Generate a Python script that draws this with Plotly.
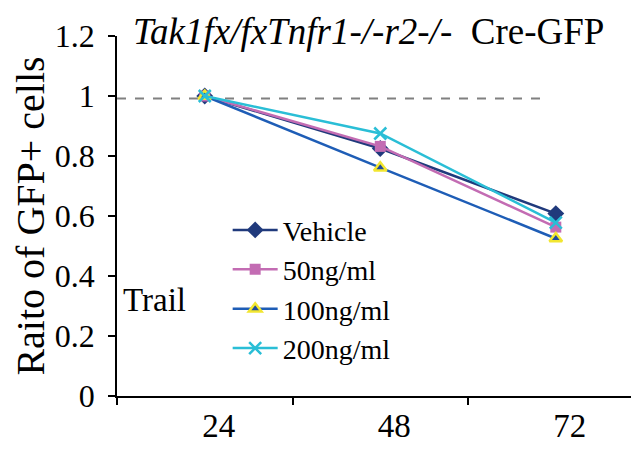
import plotly.graph_objects as go

hours = ["24", "48", "72"]
vehicle = [1.0, 0.825, 0.608]
ng50 = [1.0, 0.832, 0.563]
ng100 = [1.0, 0.761, 0.525]
ng200 = [1.0, 0.875, 0.578]
series_names = ["Vehicle", "50ng/ml", "100ng/ml", "200ng/ml"]
y_ticks = [0, 0.2, 0.4, 0.6, 0.8, 1.0, 1.2]
y_tick_text = ["0", "0.2", "0.4", "0.6", "0.8", "1", "1.2"]
reference_level = 1.0

FONT = "Times New Roman, Liberation Serif, serif"

fig = go.Figure()
fig.add_trace(go.Scatter(x=hours, y=vehicle, name=series_names[0], mode="lines+markers",
                         line=dict(color="#203A7C", width=2.5),
                         marker=dict(symbol="diamond", size=13, color="#203A7C")))
fig.add_trace(go.Scatter(x=hours, y=ng50, name=series_names[1], mode="lines+markers",
                         line=dict(color="#C36CB3", width=2.5),
                         marker=dict(symbol="square", size=11, color="#C36CB3")))
fig.add_trace(go.Scatter(x=hours, y=ng100, name=series_names[2], mode="lines+markers",
                         line=dict(color="#1E5DB6", width=2.5),
                         marker=dict(symbol="triangle-up", size=11, color="#1E4A9E",
                                     line=dict(color="#F2E630", width=2.5))))
fig.add_trace(go.Scatter(x=hours, y=ng200, name=series_names[3], mode="lines+markers",
                         line=dict(color="#2ABED6", width=2.5),
                         marker=dict(symbol="x-thin", size=12, color="#2ABED6",
                                     line=dict(color="#2ABED6", width=2.5))))

fig.add_shape(type="line", xref="x", yref="y", x0=-0.5, x1=1.93,
              y0=reference_level - 0.008, y1=reference_level - 0.008,
              line=dict(color="#808080", width=2, dash="dash"), layer="below")

fig.add_annotation(text="Trail", xref="paper", yref="y", x=0.008, y=0.32,
                   xanchor="left", yanchor="middle", showarrow=False,
                   font=dict(family=FONT, size=33, color="black"))

# page body has an 8px default margin; figure is sized to fill the rest of the window
fig.update_layout(
    width=631, height=441,
    margin=dict(l=109, r=0, t=28, b=53, autoexpand=False),
    paper_bgcolor="white", plot_bgcolor="white",
    font=dict(family=FONT, color="black"),
    title=dict(text="<i>Tak1fx/fxTnfr1-/-r2-/-</i>  Cre-GFP", x=0.198, xanchor="left",
               y=0.948, yanchor="middle", automargin=False,
               font=dict(family=FONT, size=37, color="black")),
    showlegend=True,
    legend=dict(x=0.212, y=0.53, xref="paper", yref="paper", xanchor="left", yanchor="top",
                bgcolor="rgba(0,0,0,0)", font=dict(family=FONT, size=28, color="black"),
                itemwidth=45, tracegroupgap=0),
    xaxis=dict(type="category", range=[-0.5, 2.474], tickson="boundaries",
               ticks="outside", ticklen=7, tickwidth=1.5, tickcolor="black",
               showline=True, linecolor="black", linewidth=1.5, automargin=False,
               showgrid=False, zeroline=False, ticklabelshift=14,
               tickfont=dict(family=FONT, size=33, color="black")),
    yaxis=dict(range=[0, 1.2], tickvals=y_ticks, ticktext=y_tick_text,
               ticks="outside", ticklen=7, tickwidth=1.5, tickcolor="black",
               showline=True, linecolor="black", linewidth=1.5, automargin=False,
               showgrid=False, zeroline=False, ticklabelstandoff=7,
               tickfont=dict(family=FONT, size=32, color="black"),
               title=dict(text="Raito of GFP+ cells", standoff=12,
                          font=dict(family=FONT, size=40, color="black"))),
)

fig.write_html("out.html")
